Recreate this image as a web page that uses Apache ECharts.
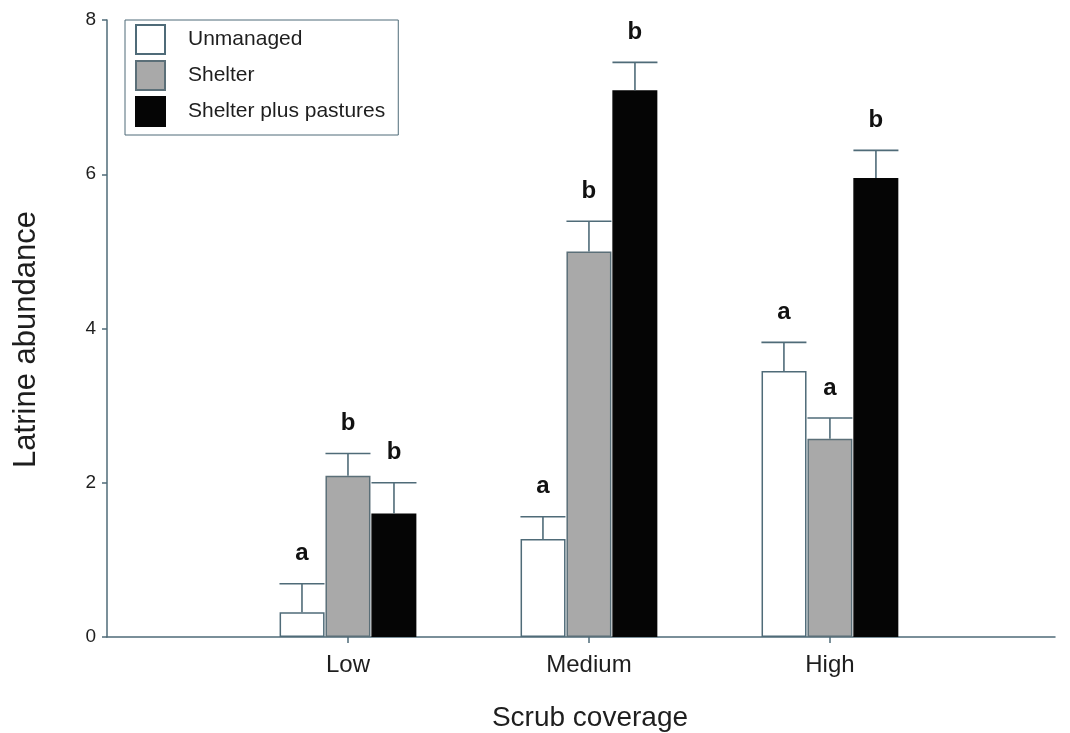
<!DOCTYPE html>
<html>
<head>
<meta charset="utf-8">
<title>Latrine abundance by scrub coverage</title>
<script src="https://cdn.jsdelivr.net/npm/echarts@6/dist/echarts.min.js"></script>
<style>
  html, body { margin: 0; padding: 0; background: #ffffff; }
  #chart { width: 1070px; height: 733px; }
</style>
</head>
<body>
<div id="chart"></div>
<script>
// Scrub coverage classes (x categories)
const categories = ['Low', 'Medium', 'High'];

// Mean latrine abundance per management type
const unmanaged = [0.32, 1.27, 3.45];
const shelter = [2.09, 5.00, 2.57];
const shelterPastures = [1.60, 7.09, 5.95];

// Standard errors (upper whiskers)
const unmanagedErr = [0.37, 0.29, 0.37];
const shelterErr = [0.29, 0.39, 0.27];
const shelterPasturesErr = [0.40, 0.36, 0.36];

// Significance letters
const unmanagedLetters = ['a', 'a', 'a'];
const shelterLetters = ['b', 'b', 'a'];
const shelterPasturesLetters = ['b', 'b', 'b'];

// Y axis ticks
const yTicks = [0, 2, 4, 6, 8];

const FONT = "'Liberation Sans', Arial, Helvetica, sans-serif";
const AXIS_COLOR = '#4f6b78';
const TEXT_COLOR = '#1e1e1e';
const BAR_W = 45;
const BAR_STEP = 46;

const catIndex = categories.map((c, i) => i + 1);

function barSeries(name, values, fill, border) {
  return {
    type: 'bar',
    name: name,
    barWidth: BAR_W,
    barGap: '2%',
    data: values.map((v, i) => [catIndex[i], v]),
    itemStyle: { color: fill, borderColor: border, borderWidth: 1.5 },
    emphasis: { disabled: true },
    z: 2
  };
}

function errorSeries(means, errs, letters, shift) {
  return {
    type: 'custom',
    data: means.map((m, i) => [catIndex[i], m, m + errs[i], letters[i]]),
    encode: { x: 0, y: [1, 2] },
    z: 3,
    silent: true,
    renderItem: function (params, api) {
      const x = api.value(0);
      const base = api.coord([x, api.value(1)]);
      const top = api.coord([x, api.value(2)]);
      const cx = base[0] + shift;
      const half = BAR_W / 2;
      const ls = { stroke: AXIS_COLOR, lineWidth: 1.6 };
      return {
        type: 'group',
        children: [
          { type: 'line', shape: { x1: cx, y1: base[1], x2: cx, y2: top[1] }, style: ls },
          { type: 'line', shape: { x1: cx - half, y1: top[1], x2: cx + half, y2: top[1] }, style: ls },
          {
            type: 'text', x: cx, y: top[1] - 30,
            style: {
              text: letters[params.dataIndex],
              fill: '#111', font: 'bold 24px ' + FONT,
              align: 'center', verticalAlign: 'middle'
            }
          }
        ]
      };
    }
  };
}

const chart = echarts.init(document.getElementById('chart'), null, { renderer: 'canvas' });

chart.setOption({
  backgroundColor: '#ffffff',
  animation: false,
  textStyle: { fontFamily: FONT },
  grid: { left: 107, right: 15, top: 20, bottom: 96, containLabel: false, outerBoundsMode: 'none' },
  legend: {
    orient: 'vertical',
    left: 125,
    top: 20,
    padding: [4, 13, 8, 10],
    itemWidth: 29,
    itemHeight: 29,
    itemGap: 5,
    icon: 'rect',
    borderColor: AXIS_COLOR,
    borderWidth: 1,
    selectedMode: false,
    data: ['Unmanaged', 'Shelter', 'Shelter plus pastures'],
    textStyle: { fontSize: 21, color: TEXT_COLOR, fontFamily: FONT, padding: [0, 0, 0, 18] }
  },
  xAxis: {
    type: 'value',
    min: 0,
    max: 3.934,
    name: 'Scrub coverage',
    nameLocation: 'middle',
    nameGap: 67,
    nameTextStyle: { fontSize: 28, color: TEXT_COLOR, fontFamily: FONT, padding: [0, 0, 0, 18] },
    splitLine: { show: false },
    axisLine: { show: true, onZero: false, lineStyle: { color: AXIS_COLOR, width: 1.5 } },
    axisTick: { show: true, length: 6, customValues: catIndex, lineStyle: { color: AXIS_COLOR, width: 1.5 } },
    axisLabel: {
      customValues: catIndex,
      margin: 16,
      fontSize: 24,
      color: TEXT_COLOR,
      fontFamily: FONT,
      formatter: function (v) { return categories[Math.round(v) - 1] || ''; }
    }
  },
  yAxis: {
    type: 'value',
    min: yTicks[0],
    max: yTicks[yTicks.length - 1],
    interval: 2,
    name: 'Latrine abundance',
    nameLocation: 'middle',
    nameGap: 65,
    nameTextStyle: { fontSize: 31, color: TEXT_COLOR, fontFamily: FONT, padding: [0, 22, 0, 0] },
    splitLine: { show: false },
    axisLine: { show: true, lineStyle: { color: AXIS_COLOR, width: 1.5 } },
    axisTick: { show: true, length: 5, lineStyle: { color: AXIS_COLOR, width: 1.5 } },
    axisLabel: { margin: 11, fontSize: 19, color: TEXT_COLOR, fontFamily: FONT }
  },
  series: [
    barSeries('Unmanaged', unmanaged, '#ffffff', '#4f6b78'),
    barSeries('Shelter', shelter, '#a9a9a9', '#5b6f78'),
    barSeries('Shelter plus pastures', shelterPastures, '#050505', '#050505'),
    errorSeries(unmanaged, unmanagedErr, unmanagedLetters, -BAR_STEP),
    errorSeries(shelter, shelterErr, shelterLetters, 0),
    errorSeries(shelterPastures, shelterPasturesErr, shelterPasturesLetters, BAR_STEP)
  ]
});
</script>
</body>
</html>
